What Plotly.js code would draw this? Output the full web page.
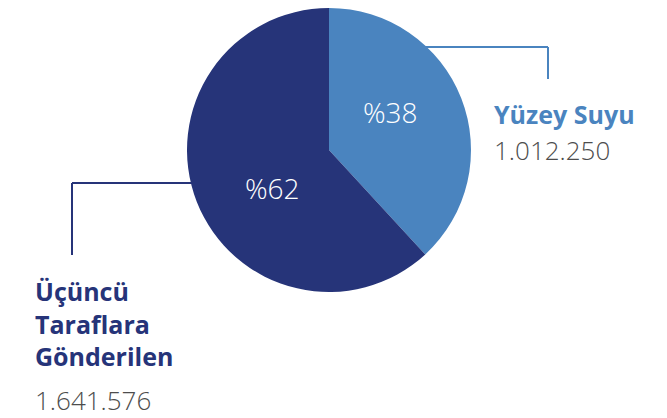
<!DOCTYPE html>
<html>
<head>
<meta charset="utf-8">
<script src="https://cdn.plot.ly/plotly-3.0.1.min.js"></script>
<style>html,body{margin:0;padding:0;background:#fff;}#chart{width:667px;height:418px;}</style>
</head>
<body>
<div id="chart"></div>
<script>
const categories = ['Yüzey Suyu', 'Üçüncü Taraflara Gönderilen'];
const values = [1012250, 1641576];
const colors = ['#4a84bf', '#263479'];

const W = 667, H = 418;
const total = values.reduce((a, b) => a + b, 0);
const percentLabels = values.map(v => '%' + Math.round(v / total * 100));
const fmt = v => String(v).replace(/\B(?=(\d{3})+(?!\d))/g, '.');
const valueLabels = values.map(fmt);

const cx = 329, cy = 150, r = 142;
const px = x => x / W;
const py = y => 1 - y / H;

const trace = {
  type: 'pie',
  labels: categories,
  values: values,
  sort: false,
  direction: 'clockwise',
  rotation: 0,
  marker: {colors: colors, line: {width: 0}},
  textinfo: 'none',
  hoverinfo: 'skip',
  showlegend: false,
  domain: {x: [px(cx - r), px(cx + r)], y: [py(cy + r), py(cy - r)]}
};

function line(x0, y0, x1, y1, color) {
  return {type: 'line', xref: 'paper', yref: 'paper', x0: px(x0), y0: py(y0), x1: px(x1), y1: py(y1),
          line: {color: color, width: 2}};
}
const edgeX = y => Math.sqrt(r * r - (cy - y) * (cy - y));

const shapes = [
  line(cx + edgeX(47) - 2, 47, 548, 47, colors[0]),
  line(548, 47, 548, 79, colors[0]),
  line(cx - edgeX(183) + 2, 183, 72, 183, colors[1]),
  line(72, 183, 72, 255, colors[1])
];

function ann(text, x, y, size, color, weight, xanchor) {
  return {text: text, xref: 'paper', yref: 'paper', x: px(x), y: py(y), xanchor: xanchor || 'left', yanchor: 'middle',
          align: 'left', showarrow: false,
          font: {family: 'Open Sans, sans-serif', size: size, color: color, weight: weight}};
}

const annotations = [
  ann(percentLabels[0], 390.5, 112, 28, '#ffffff', 300, 'center'),
  ann(percentLabels[1], 272, 188, 28, '#ffffff', 300, 'center'),
  ann(categories[0], 492, 114, 25, colors[0], 700),
  ann(valueLabels[0], 492, 150, 26, '#4d4d4d', 300),
  ann(categories[1].replace(/ /g, '<br>'), 33, 323, 25, colors[1], 700),
  ann(valueLabels[1], 33, 400, 26, '#4d4d4d', 300)
];

const layout = {
  width: W, height: H,
  margin: {l: 0, r: 0, t: 0, b: 0},
  paper_bgcolor: '#ffffff',
  shapes: shapes,
  annotations: annotations,
  showlegend: false
};

Plotly.newPlot('chart', [trace], layout, {displayModeBar: false, staticPlot: true});
</script>
</body>
</html>
